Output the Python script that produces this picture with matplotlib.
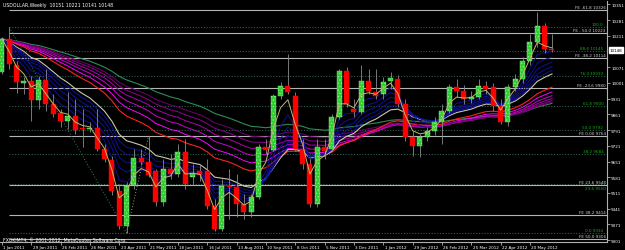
import matplotlib.pyplot as plt
import matplotlib.transforms as mtransforms
import numpy as np
import pandas as pd

plt.rcParams['font.family'] = ['DejaVu Sans']
plt.rcParams['hatch.linewidth'] = 0.5

# weekly USDOLLAR bars, Jan 2011 - Jun 2012
opens = [10050, 10197, 10081, 10001, 10010, 9925, 10014, 9907, 9867, 9832,
         9854, 9800, 9796, 9800, 9707, 9658, 9520, 9364, 9547, 9667,
         9649, 9609, 9471, 9618, 9596, 9694, 9582, 9609, 9609, 9453,
         9351, 9542, 9538, 9462, 9426, 9493, 9716, 9702, 9943, 9987,
         9943, 9707, 9640, 9462, 9716, 9707, 9849, 10054, 9885, 9872,
         10010, 9961, 9952, 10010, 10019, 9907, 9760, 9720, 9760, 9787,
         9827, 9876, 9983, 9965, 9930, 9938, 9987, 9983, 9898, 9827,
         9983, 10019, 10099, 10183, 10255, 10151]
highs = [10206, 10249, 10099, 10028, 10032, 10032, 10063, 9952, 9885, 9961,
         9930, 9885, 9827, 9885, 9729, 9676, 9551, 9560, 9707, 9707,
         9764, 9618, 9662, 9685, 9729, 9751, 9640, 9640, 9662, 9484,
         9573, 9618, 9596, 9506, 9506, 9729, 9751, 9952, 10005, 10130,
         9961, 9751, 9662, 9751, 9751, 9863, 10063, 10072, 9930, 10081,
         10063, 10063, 10028, 10050, 10036, 9930, 9787, 9774, 9805, 9849,
         9907, 9996, 10019, 9992, 9965, 10019, 10010, 10001, 9930, 9996,
         10041, 10117, 10219, 10317, 10268, 10221]
lows = [10041, 10063, 9956, 9952, 9832, 9885, 9876, 9849, 9805, 9796,
        9774, 9716, 9783, 9698, 9649, 9502, 9351, 9334, 9529, 9636,
        9582, 9453, 9453, 9573, 9582, 9529, 9547, 9564, 9440, 9340,
        9340, 9395, 9404, 9395, 9404, 9484, 9685, 9698, 9930, 9952,
        9698, 9618, 9449, 9449, 9662, 9698, 9840, 9894, 9849, 9863,
        9952, 9930, 9930, 9974, 9894, 9742, 9676, 9671, 9742, 9769,
        9729, 9867, 9938, 9907, 9912, 9930, 9952, 9876, 9818, 9809,
        9965, 10001, 10081, 10161, 10134, 10141]
closes = [10197, 10085, 10005, 10010, 9925, 10014, 9907, 9863, 9832, 9854,
          9792, 9796, 9800, 9707, 9662, 9520, 9364, 9542, 9667, 9649,
          9591, 9471, 9618, 9596, 9694, 9551, 9600, 9591, 9453, 9351,
          9542, 9538, 9462, 9426, 9493, 9716, 9702, 9943, 9987, 9961,
          9707, 9640, 9462, 9716, 9698, 9849, 10054, 9907, 9872, 10010,
          9965, 9943, 10005, 10023, 9907, 9760, 9720, 9760, 9787, 9827,
          9876, 9983, 9965, 9930, 9938, 9987, 9974, 9898, 9827, 9983,
          10019, 10099, 10183, 10255, 10151, 10148]

date_labels = ['1 Jan 2011', '29 Jan 2011', '26 Feb 2011', '26 Mar 2011', '23 Apr 2011',
               '21 May 2011', '18 Jun 2011', '16 Jul 2011', '13 Aug 2011', '10 Sep 2011',
               '8 Oct 2011', '5 Nov 2011', '3 Dec 2011', '1 Jan 2012', '29 Jan 2012',
               '26 Feb 2012', '25 Mar 2012', '22 Apr 2012', '20 May 2012']
price_ticks = [10351, 10281, 10211, 10071, 10001, 9931, 9861, 9791, 9721,
               9651, 9581, 9511, 9441, 9371, 9301]

fe_names = ['FE -61.8', 'FE - 50.0', 'FE -38.2', 'FE -23.6', 'FE 0.00', 'FE 23.6', 'FE 38.2', 'FE 50.0']
fe_prices = [10326, 10223, 10114, 9980, 9764, 9548, 9414, 9306]
fib_names = ['100.0', '88.6', '76.4', '61.8', '50.0', '38.2', '23.6', '0.0']
fib_prices = [10249, 10145, 10033, 9900, 9792, 9684, 9550, 9334]

# swing points used by the fibo tools (week index, price)
swing_w = [1, 17, 20]
swing_p = [10249, 9334, 9764]

fast_spans = [5, 7, 9, 11, 13]
slow_spans = [30, 35, 40, 45, 50]
slow_colors = ['#ff00ff', '#d000d0', '#b000b0', '#900090', '#700070']

fig = plt.figure(figsize=(6.25, 2.51), dpi=100, facecolor='black')
ax = fig.add_axes([0, 8 / 251, 607 / 625, 241 / 251], facecolor='black')
ax.set_xlim(-0.25, 82.5)
ax.set_ylim(9292.7, 10366.1)

w = np.arange(len(closes))
cl = pd.Series(closes, dtype=float)
xr = ax.get_xlim()[1]

# fibo retracement (dotted) and expansion (solid) levels
ax.hlines(fib_prices, 1, xr, colors='#2f5f4f', linestyles=(0, (1, 1.5)), lw=0.8, zorder=1)
ax.hlines(fe_prices, 1, xr, colors='#b4b4b4', lw=0.8, zorder=1)
ax.plot(swing_w[:2], swing_p[:2], color='#2e8b57', ls=(0, (1, 2)), lw=0.7, zorder=1)
ax.plot(swing_w[1:], swing_p[1:], color='#a0a080', ls=(0, (1, 2)), lw=0.7, zorder=1)

# moving averages
ax.plot(w, cl.ewm(span=60, adjust=False).mean(), color='#2e8b57', lw=0.8, zorder=2)
for s, c in zip(slow_spans, slow_colors):
    ax.plot(w, cl.ewm(span=s, adjust=False).mean(), color=c, lw=0.7, zorder=2)
ax.plot(w, cl.ewm(span=25, adjust=False).mean(), color='#ff2020', lw=0.8, zorder=2)
ax.plot(w, cl.ewm(span=15, adjust=False).mean(), color='#c8c8b0', lw=0.8, zorder=2)
for s in fast_spans:
    ax.plot(w, cl.ewm(span=s, adjust=False).mean(), color='#10109a', lw=0.7, zorder=2)

# candles
for i in range(len(closes)):
    o, h, l, c = opens[i], highs[i], lows[i], closes[i]
    ax.vlines(i, l, h, color='#8c8c8c', lw=0.6, zorder=3)
    if c >= o:
        ax.bar(i, max(c - o, 3), bottom=o, width=0.68, color='#32cd32',
               edgecolor='#8cf08c', hatch='.....', lw=0.3, zorder=4)
    else:
        ax.bar(i, max(o - c, 3), bottom=c, width=0.68, color='#ff0000',
               edgecolor='#ff0000', lw=0.3, zorder=4)

ax.plot(w, cl.ewm(span=3, adjust=False).mean(), color='#bdb76b', lw=0.7, zorder=5)

# level labels
tr = mtransforms.blended_transform_factory(ax.transAxes, ax.transData)
for n, p in zip(fe_names, fe_prices):
    ax.text(0.998, p + 4, f'{n} {p}', transform=tr, ha='right', va='bottom',
            color='#d0d0d0', fontsize=3)
for n, p in zip(fib_names, fib_prices):
    t = n if n == '100.0' else f'{n} {p}'
    if n == '23.6':
        ax.text(0.998, p - 6, t, transform=tr, ha='right', va='top',
                color='#10b010', fontsize=3)
    else:
        ax.text(0.994, p + 4, t, transform=tr, ha='right', va='bottom',
                color='#10b010', fontsize=3)

# axes styling
for s in ['top', 'left']:
    ax.spines[s].set_visible(False)
ax.spines['right'].set_color('#b0b0b0')
ax.spines['bottom'].set_color('#b0b0b0')
ax.spines['right'].set_linewidth(0.8)
ax.spines['bottom'].set_linewidth(0.8)
ax.yaxis.tick_right()
ax.set_yticks(price_ticks)
ax.set_yticklabels([str(p) for p in price_ticks])
ax.tick_params(axis='y', colors='#b0b0b0', labelcolor='white', labelsize=3,
               length=2, width=0.6, pad=1)
ax.set_xticks(range(0, 4 * len(date_labels), 4))
ax.set_xticklabels([])
ax.tick_params(axis='x', colors='#b0b0b0', length=2, width=0.6)
xtr = mtransforms.blended_transform_factory(ax.transData, ax.transAxes)
for k, lab in enumerate(date_labels):
    ax.text(4 * k + 0.2, -0.012, lab, transform=xtr, ha='left', va='top',
            color='white', fontsize=3)

# last price box
ax.text(1.004, closes[-1], str(closes[-1]), transform=tr, ha='left', va='center',
        color='black', fontsize=3, bbox=dict(boxstyle='square,pad=0.15', fc='white', ec='white'))

fig.text(3 / 625, 1 - 5 / 251, 'USDOLLAR,Weekly  10151 10221 10141 10148', color='white',
         fontsize=3.3, ha='left', va='center')
fig.text(3 / 625, 1 - 240 / 251, 'FXOKIMT4, \u00a9 2001-2012, MetaQuotes Software Corp.',
         color='white', fontsize=3.3, ha='left', va='center')

fig.savefig('out.png', dpi=100, facecolor='black')
